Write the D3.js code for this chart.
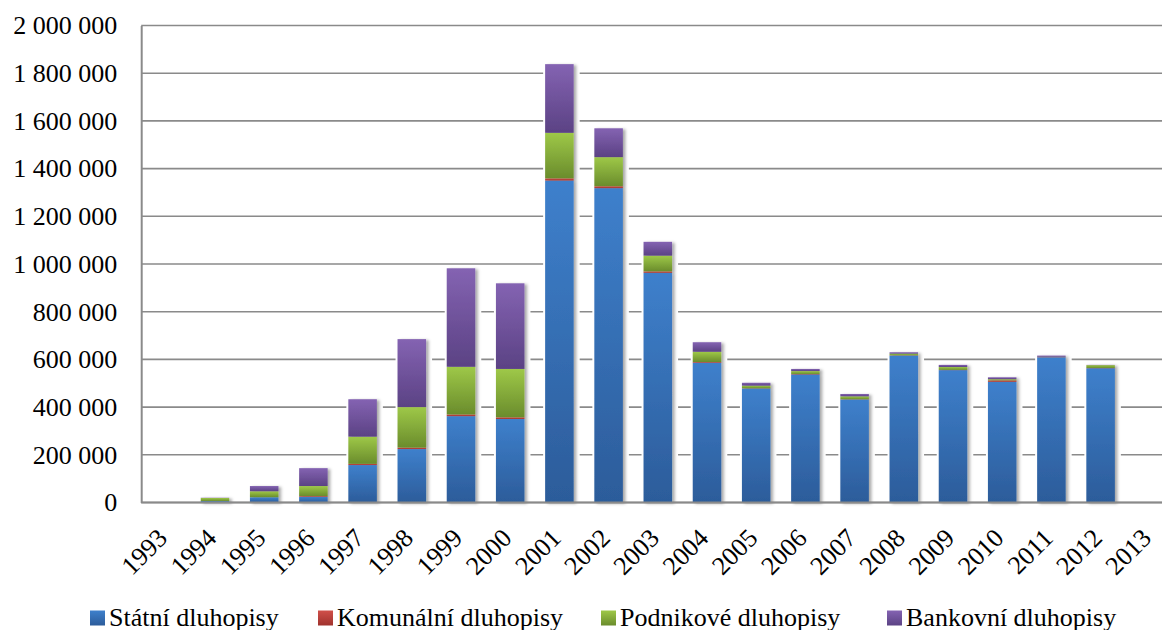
<!DOCTYPE html>
<html>
<head>
<meta charset="utf-8">
<script src="https://cdn.jsdelivr.net/npm/d3@7"></script>
<style>
  html, body { margin: 0; padding: 0; background: #fff; }
  svg { display: block; font-family: "Liberation Serif", "Times New Roman", serif; }
  svg text { font-family: "Liberation Serif", "Times New Roman", serif; }
</style>
</head>
<body>
<svg id="chart" width="1162" height="630"></svg>
<script>
// Objem obchodů s dluhopisy podle typu emitenta (1993–2013)
const years = ["1993","1994","1995","1996","1997","1998","1999","2000","2001","2002",
               "2003","2004","2005","2006","2007","2008","2009","2010","2011","2012","2013"];
const statni    = [0, 6000, 22000, 24000, 157000, 224000, 362000, 350000, 1350000, 1318000,
                   963000, 586000, 478000, 537000, 432000, 616000, 555000, 506000, 609000, 563000, 0];
const komunalni = [0, 0, 0, 3000, 5000, 6000, 7000, 7000, 9000, 8000,
                   6000, 3000, 1000, 2000, 1000, 1000, 1000, 6000, 1000, 1000, 0];
const podnikove = [0, 13000, 25000, 42000, 114000, 170000, 200000, 203000, 191000, 122000,
                   66000, 43000, 11000, 12000, 12000, 7000, 12000, 5000, 1000, 12000, 0];
const bankovni  = [0, 1000, 22000, 75000, 157000, 285000, 413000, 359000, 288000, 121000,
                   58000, 40000, 12000, 9000, 10000, 6000, 9000, 8000, 5000, 1000, 0];
const seriesNames = ["Státní dluhopisy", "Komunální dluhopisy", "Podnikové dluhopisy", "Bankovní dluhopisy"];
const yTicks = [0, 200000, 400000, 600000, 800000, 1000000, 1200000, 1400000, 1600000, 1800000, 2000000];

const seriesKeys = ["statni", "komunalni", "podnikove", "bankovni"];
const colors = {
  statni:    { hi: "#3e80cc", lo: "#2c5c9a" },
  komunalni: { hi: "#d0504a", lo: "#a0322d" },
  podnikove: { hi: "#9ec848", lo: "#6a8c2c" },
  bankovni:  { hi: "#8463b2", lo: "#5b4284" }
};

const rows = years.map((yr, i) => ({
  year: yr, statni: statni[i], komunalni: komunalni[i], podnikove: podnikove[i], bankovni: bankovni[i]
}));

const svg = d3.select("#chart");
const plotLeft = 141.2, step = 49.2, plotTop = 25.5, plotBottom = 502.5;

const x = d3.scaleBand()
  .domain(years)
  .range([plotLeft, plotLeft + step * years.length])
  .paddingInner(0.42)
  .paddingOuter(0.21);

const y = d3.scaleLinear().domain([0, 2000000]).range([plotBottom, plotTop]);

const fmt = d3.formatLocale({ decimal: ",", thousands: " ", grouping: [3], currency: ["", " Kč"] }).format(",d");

// gradients and shadow
const defs = svg.append("defs");
seriesKeys.forEach(k => {
  const g = defs.append("linearGradient").attr("id", "grad-" + k)
    .attr("x1", 0).attr("y1", 0).attr("x2", 0).attr("y2", 1);
  g.append("stop").attr("offset", "0%").attr("stop-color", colors[k].hi);
  g.append("stop").attr("offset", "100%").attr("stop-color", colors[k].lo);
});
const sh = defs.append("filter").attr("id", "shadow")
  .attr("x", "-30%").attr("y", "-10%").attr("width", "160%").attr("height", "120%");
sh.append("feDropShadow").attr("dx", 2.5).attr("dy", 1).attr("stdDeviation", 1.6)
  .attr("flood-color", "#000").attr("flood-opacity", 0.35);

// gridlines
svg.append("g").selectAll("line").data(yTicks).join("line")
  .attr("x1", plotLeft).attr("x2", 1162)
  .attr("y1", d => y(d)).attr("y2", d => y(d))
  .attr("stroke", "#8a8a8a").attr("stroke-width", 1.6);

// y axis
const yAxis = svg.append("g").attr("transform", `translate(${plotLeft},0)`)
  .call(d3.axisLeft(y).tickValues(yTicks).tickFormat(fmt).tickSize(0).tickPadding(24));
yAxis.attr("font-family", null);
yAxis.select(".domain").attr("stroke", "#8a8a8a").attr("stroke-width", 2);
yAxis.selectAll("text").attr("font-size", 26).attr("fill", "#000");

// stacked bars
const stacked = d3.stack().keys(seriesKeys)(rows);
const totalOf = r => seriesKeys.reduce((s, k) => s + r[k], 0);

// white halo behind each column, lifting it off the gridlines
svg.append("g").selectAll("rect").data(rows.filter(r => totalOf(r) > 0)).join("rect")
  .attr("x", d => x(d.year) - 2)
  .attr("width", x.bandwidth() + 8)
  .attr("y", d => y(totalOf(d)) - 1)
  .attr("height", d => plotBottom - y(totalOf(d)) - 1)
  .attr("fill", "#fff");

const barsG = svg.append("g").attr("filter", "url(#shadow)");
barsG.selectAll("g").data(stacked).join("g")
  .attr("fill", d => `url(#grad-${d.key})`)
  .selectAll("rect").data(d => d.filter(s => s[1] - s[0] > 0)).join("rect")
  .attr("x", d => x(d.data.year))
  .attr("width", x.bandwidth())
  .attr("y", d => y(d[1]))
  .attr("height", d => y(d[0]) - y(d[1]));

// x axis line
svg.append("line").attr("x1", plotLeft).attr("x2", 1162).attr("y1", plotBottom).attr("y2", plotBottom)
  .attr("stroke", "#8a8a8a").attr("stroke-width", 2);

// x labels, rotated
const xAxis = svg.append("g").attr("transform", `translate(0,${plotBottom})`)
  .call(d3.axisBottom(x).tickSize(0).tickFormat(d => d));
xAxis.attr("font-family", null);
xAxis.select(".domain").remove();
xAxis.selectAll(".tick text")
  .attr("font-size", 26).attr("fill", "#000")
  .attr("text-anchor", "end")
  .attr("x", 0).attr("y", 0).attr("dy", 0)
  .attr("transform", "translate(3,37) rotate(-45)");

// legend
const legendX = [90, 318, 601, 887];
const legend = svg.append("g");
seriesKeys.forEach((k, i) => {
  legend.append("rect").attr("x", legendX[i]).attr("y", 610.5).attr("width", 15).attr("height", 15)
    .attr("fill", `url(#grad-${k})`);
  legend.append("text").attr("x", legendX[i] + 19).attr("y", 625.5)
    .attr("font-size", 26).attr("fill", "#000").text(seriesNames[i]);
});
</script>
</body>
</html>
